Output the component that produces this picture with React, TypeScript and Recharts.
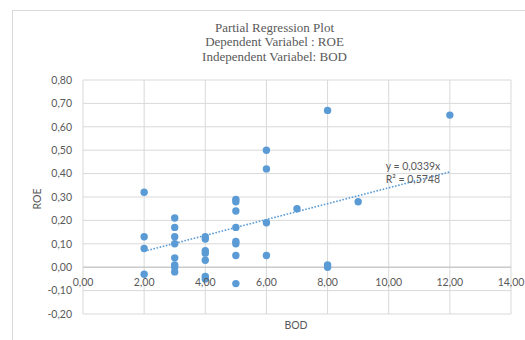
import React from "react"
import { ScatterChart, Scatter, XAxis, YAxis, CartesianGrid, ReferenceLine, ReferenceDot } from "recharts"

// BOD (x) and ROE (y)
const BOD = [
  2, 2, 2, 2,
  3, 3, 3, 3, 3, 3, 3, 3,
  4, 4, 4, 4, 4, 4, 4,
  5, 5, 5, 5, 5, 5, 5, 5,
  6, 6, 6, 6,
  7,
  8, 8, 8,
  9,
  12,
]
const ROE = [
  0.32, 0.13, 0.08, -0.03,
  0.21, 0.17, 0.13, 0.10, 0.04, 0.01, 0.00, -0.02,
  0.13, 0.12, 0.07, 0.06, 0.03, -0.04, -0.05,
  0.29, 0.28, 0.24, 0.17, 0.11, 0.10, 0.05, -0.07,
  0.50, 0.42, 0.19, 0.05,
  0.25,
  0.67, 0.01, 0.00,
  0.28,
  0.65,
]

const X_TICKS = [0, 2, 4, 6, 8, 10, 12, 14]
const Y_TICKS = [-0.2, -0.1, 0, 0.1, 0.2, 0.3, 0.4, 0.5, 0.6, 0.7, 0.8]

// linear trendline through origin, y = 0,0339x, drawn from x=2 to x=12
const TREND_X = [2, 12]
const TREND_Y = [0.068, 0.407]
const TREND_LABEL = ["y = 0,0339x", "R² = 0,5748"]

const TITLE = ["Partial Regression Plot", "Dependent Variabel : ROE", "Independent Variabel: BOD"]

const points = BOD.map((x, i) => ({ x, y: ROE[i] }))

const BLUE = "#5b9bd5"
const TEXT = "#595959"
const GRID = "#d9d9d9"
const FONT = "Lato, 'Liberation Sans', sans-serif"

const W = 525
const H = 340
const PLOT_TOP = 80
const X_AXIS_H = 26
const PLOT_H = H - PLOT_TOP - X_AXIS_H
const Y_MIN = Y_TICKS[0]
const Y_MAX = Y_TICKS[Y_TICKS.length - 1]
const ZERO_Y = PLOT_TOP + (PLOT_H * (Y_MAX - 0)) / (Y_MAX - Y_MIN)

const fmt = (v: number) => v.toFixed(2).replace(".", ",")

// x labels sit just under the zero line, like Excel's crossing axis
const XTick = (props: any) => {
  const { x, payload } = props
  return (
    <text x={x} y={ZERO_Y + 19} textAnchor="middle" fill={TEXT} fontSize={10.5} fontFamily={FONT}>
      {fmt(payload.value)}
    </text>
  )
}

const Dot = (props: any) => <circle cx={props.cx} cy={props.cy} r={3.7} fill={BLUE} />

const EqLabel = (props: any) => (
  <g>
    <text x={props.cx} y={props.cy + 3.5} fill={TEXT} fontSize={10.5} fontFamily={FONT}>{TREND_LABEL[0]}</text>
    <text x={props.cx} y={props.cy + 16} fill={TEXT} fontSize={10.5} fontFamily={FONT}>{TREND_LABEL[1]}</text>
  </g>
)

export default function App() {
  return (
    <div style={{ position: "absolute", left: 0, top: 0, width: W, height: H, background: "#fff", overflow: "hidden" }}>
      <div style={{ position: "absolute", left: 12, top: 10, width: 540, height: 360, border: "1px solid #d9d9d9" }} />
      <div
        style={{
          position: "absolute", left: 0, top: 21, width: 549, textAlign: "center",
          fontFamily: "'Liberation Serif', serif", fontSize: 13, lineHeight: "14.3px", color: TEXT,
        }}
      >
        {TITLE.map(t => <div key={t}>{t}</div>)}
      </div>
      <div
        style={{
          position: "absolute", left: 37, top: 199, transform: "translate(-50%, -50%) rotate(-90deg)",
          fontFamily: FONT, fontSize: 10.5, color: TEXT, whiteSpace: "nowrap",
        }}
      >
        ROE
      </div>
      <div
        style={{
          position: "absolute", left: 296, top: 325, transform: "translate(-50%, -50%)",
          fontFamily: FONT, fontSize: 10.5, color: TEXT,
        }}
      >
        BOD
      </div>
      <div style={{ position: "absolute", left: 0, top: 0 }}>
        <ScatterChart width={W} height={H} margin={{ top: PLOT_TOP, right: 14, bottom: 0, left: 0 }}>
          <CartesianGrid stroke={GRID} strokeWidth={1} />
          <XAxis
            type="number" dataKey="x" domain={[0, 14]} ticks={X_TICKS} height={X_AXIS_H}
            axisLine={false} tickLine={false} tick={<XTick />} interval={0}
          />
          <YAxis
            type="number" dataKey="y" domain={[Y_MIN, Y_MAX]} ticks={Y_TICKS} width={83}
            axisLine={false} tickLine={false} tickSize={0} tickMargin={11} interval={0}
            tickFormatter={fmt} tick={{ fill: TEXT, fontSize: 10.5, fontFamily: FONT }}
          />
          <ReferenceLine y={0} stroke="#bfbfbf" strokeWidth={1} />
          <Scatter data={points} shape={<Dot />} isAnimationActive={false} />
          <ReferenceLine
            segment={[{ x: TREND_X[0], y: TREND_Y[0] }, { x: TREND_X[1], y: TREND_Y[1] }]}
            stroke={BLUE} strokeWidth={1.6} strokeDasharray="1.6 1.6"
          />
          <ReferenceDot x={9.9} y={0.43} r={0} shape={<EqLabel />} />
        </ScatterChart>
      </div>
    </div>
  )
}
